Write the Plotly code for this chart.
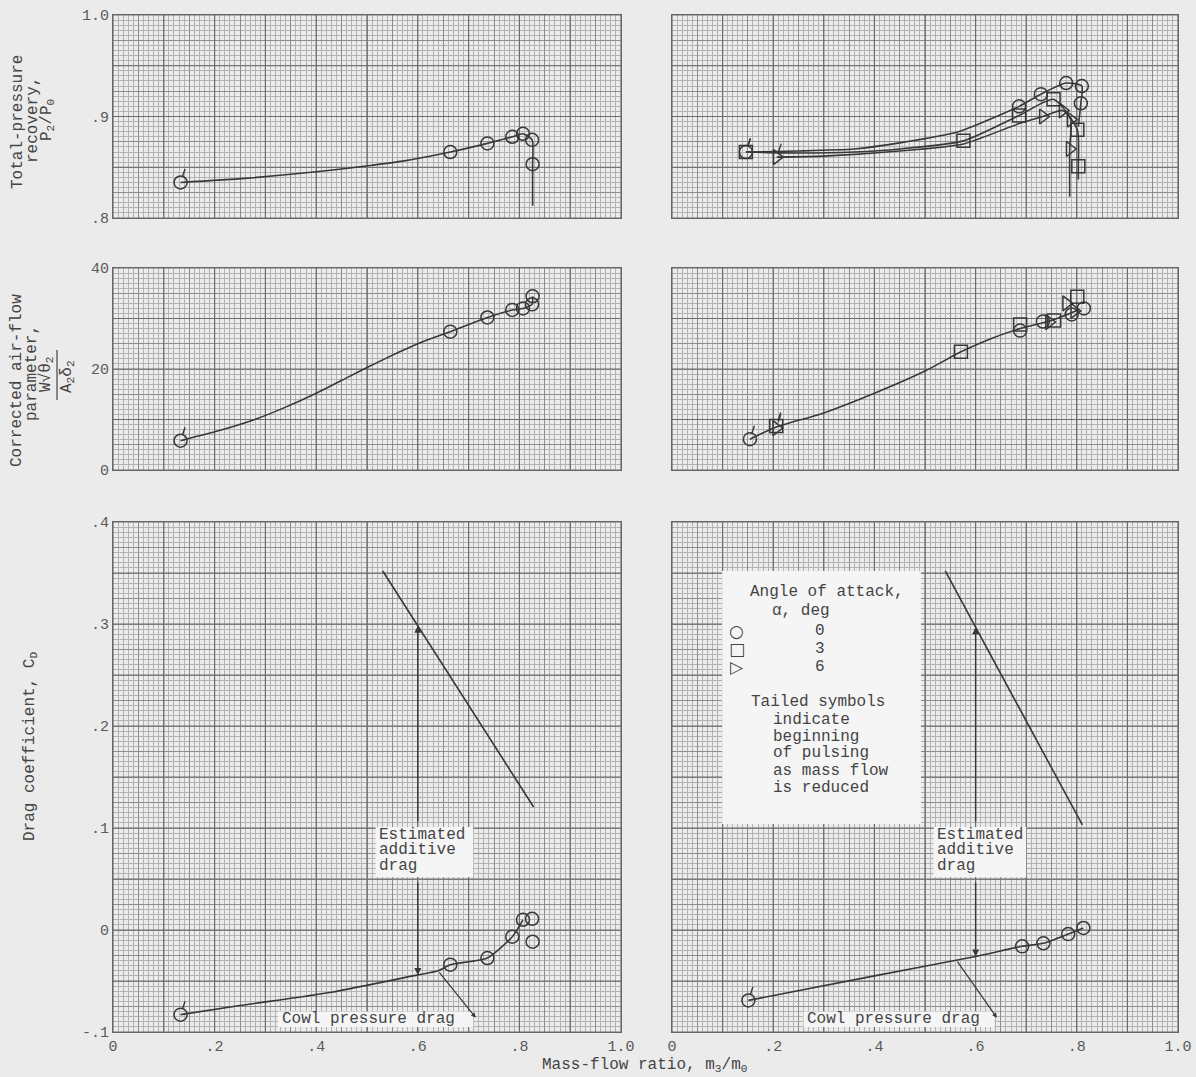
import numpy as np
import plotly.graph_objects as go

W, H = 1196, 1077

# ---------------- data ----------------
# Top-left: total-pressure recovery, alpha = 0
tl_mark_x = [0.133, 0.664, 0.737, 0.786, 0.807, 0.825, 0.826]
tl_mark_y = [0.835, 0.865, 0.8735, 0.880, 0.883, 0.877, 0.853]
tl_tailed = [0]
tl_curve_x = [0.133, 0.26, 0.41, 0.51, 0.57, 0.664, 0.737, 0.786, 0.807, 0.825, 0.826, 0.826]
tl_curve_y = [0.835, 0.839, 0.846, 0.852, 0.856, 0.865, 0.8735, 0.880, 0.883, 0.877, 0.853, 0.812]

# Top-right: total-pressure recovery, alpha = 0, 3, 6
tr_a0_x = [0.146, 0.686, 0.729, 0.779, 0.810, 0.808]
tr_a0_y = [0.865, 0.910, 0.922, 0.933, 0.930, 0.913]
tr_a3_x = [0.146, 0.576, 0.686, 0.754, 0.801, 0.803]
tr_a3_y = [0.865, 0.876, 0.901, 0.917, 0.887, 0.851]
tr_a6_x = [0.207, 0.733, 0.772, 0.788, 0.786]
tr_a6_y = [0.860, 0.900, 0.906, 0.897, 0.868]
tr_a0_curve_x = [0.146, 0.25, 0.36, 0.45, 0.566, 0.686, 0.729, 0.779, 0.810, 0.808, 0.803]
tr_a0_curve_y = [0.865, 0.866, 0.868, 0.874, 0.885, 0.910, 0.922, 0.933, 0.930, 0.913, 0.890]
tr_a3_curve_x = [0.146, 0.25, 0.36, 0.45, 0.576, 0.686, 0.754, 0.801, 0.803, 0.803]
tr_a3_curve_y = [0.865, 0.864, 0.865, 0.868, 0.876, 0.901, 0.917, 0.887, 0.851, 0.838]
tr_a6_curve_x = [0.207, 0.30, 0.45, 0.576, 0.686, 0.733, 0.772, 0.788, 0.786, 0.786]
tr_a6_curve_y = [0.860, 0.861, 0.866, 0.873, 0.893, 0.900, 0.906, 0.897, 0.868, 0.821]

# Middle-left: corrected air-flow parameter, alpha = 0
ml_mark_x = [0.133, 0.664, 0.737, 0.786, 0.807, 0.825, 0.826]
ml_mark_y = [5.8, 27.4, 30.2, 31.7, 32.0, 32.8, 34.4]
ml_curve_x = [0.133, 0.216, 0.279, 0.341, 0.404, 0.459, 0.504, 0.56, 0.607, 0.664, 0.737, 0.786, 0.807, 0.825, 0.826]
ml_curve_y = [5.8, 8.0, 10.0, 12.5, 15.4, 18.2, 20.5, 23.2, 25.3, 27.4, 30.2, 31.7, 32.0, 32.8, 34.4]

# Middle-right: corrected air-flow parameter, alpha = 0, 3, 6
mr_a0_x = [0.154, 0.688, 0.733, 0.790, 0.814]
mr_a0_y = [6.1, 27.6, 29.4, 30.8, 32.0]
mr_a3_x = [0.206, 0.571, 0.688, 0.755, 0.801]
mr_a3_y = [8.7, 23.4, 28.8, 29.6, 34.3]
mr_a6_x = [0.206, 0.745, 0.779, 0.795]
mr_a6_y = [8.3, 29.3, 33.0, 31.5]
mr_curve_x = [0.154, 0.206, 0.297, 0.40, 0.50, 0.571, 0.63, 0.688, 0.749, 0.805]
mr_curve_y = [6.1, 8.5, 11.2, 15.2, 19.6, 23.4, 26.0, 28.0, 29.6, 31.8]

# Bottom-left: drag coefficient, alpha = 0
bl_mark_x = [0.133, 0.664, 0.737, 0.786, 0.807, 0.825, 0.826]
bl_mark_y = [-0.083, -0.034, -0.0275, -0.0066, 0.010, 0.011, -0.0115]
bl_curve_x = [0.133, 0.25, 0.43, 0.60, 0.64, 0.664, 0.737, 0.786, 0.807]
bl_curve_y = [-0.083, -0.074, -0.061, -0.044, -0.040, -0.034, -0.0275, -0.0066, 0.010]
bl_add_x = [0.531, 0.828]
bl_add_y = [0.352, 0.1206]

# Bottom-right: drag coefficient, alpha = 0
br_mark_x = [0.151, 0.692, 0.734, 0.783, 0.813]
br_mark_y = [-0.069, -0.016, -0.013, -0.004, 0.002]
br_curve_x = [0.151, 0.40, 0.60, 0.692, 0.734, 0.783, 0.813]
br_curve_y = [-0.069, -0.045, -0.026, -0.016, -0.013, -0.004, 0.002]
br_add_x = [0.540, 0.811]
br_add_y = [0.352, 0.103]

additive_arrow_x = 0.6
bl_leader_x = 0.64
br_leader_x = 0.562

# tick labels
x_label_vals = [0, 0.2, 0.4, 0.6, 0.8, 1.0]
x_label_text = ['0', '.2', '.4', '.6', '.8', '1.0']
top_y_vals = [0.8, 0.9, 1.0]
top_y_text = ['.8', '.9', '1.0']
mid_y_vals = [0, 20, 40]
mid_y_text = ['0', '20', '40']
bot_y_vals = [-0.1, 0, 0.1, 0.2, 0.3, 0.4]
bot_y_text = ['-.1', '0', '.1', '.2', '.3', '.4']

legend_symbols = ['○', '□', '▷']
legend_angles = ['0', '3', '6']

# ---------------- style ----------------
PAPER = '#ebebeb'
PLOT = '#ececec'
FINE = '#b3b3b3'
MED = '#8c8c8c'
HEAVY = '#6c6c6c'
INK = '#383838'
TEXT = '#444444'
TICK = '#5a5a5a'
LABEL_BG = '#f5f5f5'
MONO = 'Liberation Mono, Courier New, monospace'


def px_x(p):
    return p / W


def px_y(p):
    return 1 - p / H


X_DOM_L = [px_x(113), px_x(621)]
X_DOM_R = [px_x(672), px_x(1178)]
Y_DOM_T = [px_y(218), px_y(15)]
Y_DOM_M = [px_y(470), px_y(268)]
Y_DOM_B = [px_y(1032), px_y(522)]


def make_ticks(lo, hi, step, label_vals, label_text, show):
    vals = np.round(np.arange(lo, hi + step / 2, step), 6)
    text = []
    for v in vals:
        t = ''
        if show:
            for lv, lt in zip(label_vals, label_text):
                if abs(v - lv) < 1e-9:
                    t = lt
        text.append(t)
    return list(vals), text


# panel spec: (index, xdom, ydom, yrange, fine, med, heavy, yvals, ytext, showx, showy)
panels = [
    (1, X_DOM_L, Y_DOM_T, [0.8, 1.0], 0.005, 0.025, 0.05, top_y_vals, top_y_text, False, True),
    (2, X_DOM_R, Y_DOM_T, [0.8, 1.0], 0.005, 0.025, 0.05, top_y_vals, top_y_text, False, False),
    (3, X_DOM_L, Y_DOM_M, [0, 40], 1, 5, 10, mid_y_vals, mid_y_text, False, True),
    (4, X_DOM_R, Y_DOM_M, [0, 40], 1, 5, 10, mid_y_vals, mid_y_text, False, False),
    (5, X_DOM_L, Y_DOM_B, [-0.1, 0.4], 0.005, 0.025, 0.05, bot_y_vals, bot_y_text, True, True),
    (6, X_DOM_R, Y_DOM_B, [-0.1, 0.4], 0.005, 0.025, 0.05, bot_y_vals, bot_y_text, True, False),
]

fig = go.Figure()
layout = dict(
    width=W, height=H,
    margin=dict(l=0, r=0, t=0, b=0, pad=0, autoexpand=False),
    paper_bgcolor=PAPER, plot_bgcolor=PLOT,
    showlegend=False,
    font=dict(family=MONO, color=TEXT),
)
shapes = []
annotations = []


def ax_names(i):
    return ('x' if i == 1 else f'x{i}'), ('y' if i == 1 else f'y{i}')


for (i, xd, yd, yr, fine, med, heavy, yv, yt, showx, showy) in panels:
    xk = 'xaxis' if i == 1 else f'xaxis{i}'
    yk = 'yaxis' if i == 1 else f'yaxis{i}'
    xr, yrf = ax_names(i)
    xtv, xtt = make_ticks(0, 1.0, 0.05, x_label_vals, x_label_text, showx)
    ytv, ytt = make_ticks(yr[0], yr[1], med, yv, yt, showy)
    layout[xk] = dict(
        domain=xd, range=[0, 1.0], anchor=yrf, tickmode='array', tickvals=xtv, ticktext=xtt,
        showgrid=True, gridcolor=MED, gridwidth=1, zeroline=False, automargin=False,
        minor=dict(dtick=0.01, tick0=0, showgrid=True, gridcolor=FINE, gridwidth=1),
        showline=True, mirror=True, linecolor='#666666', linewidth=1.2, ticks='',
        tickfont=dict(family=MONO, size=15, color=TICK), fixedrange=True,
    )
    layout[yk] = dict(
        domain=yd, range=yr, anchor=xr, tickmode='array', tickvals=ytv, ticktext=ytt,
        showgrid=True, gridcolor=MED, gridwidth=1, zeroline=False, automargin=False,
        minor=dict(dtick=fine, tick0=yr[0], showgrid=True, gridcolor=FINE, gridwidth=1),
        showline=True, mirror=True, linecolor='#666666', linewidth=1.2, ticks='',
        tickfont=dict(family=MONO, size=15, color=TICK), fixedrange=True,
    )
    # heavy graph-paper lines, drawn as a trace on the panel's own axes
    gx, gy = [], []
    for v in np.arange(0, 1.0 + 1e-9, 0.1):
        gx += [v, v, None]
        gy += [yr[0], yr[1], None]
    for v in np.arange(yr[0], yr[1] + heavy / 1000, heavy):
        gx += [0, 1.0, None]
        gy += [v, v, None]
    fig.add_trace(go.Scatter(x=gx, y=gy, xaxis=xr, yaxis=yrf, mode='lines',
                             line=dict(color=HEAVY, width=1.2), hoverinfo='skip'))


def curve(x, y, i, smooth=0.7):
    xr, yr = ax_names(i)
    fig.add_trace(go.Scatter(x=x, y=y, xaxis=xr, yaxis=yr, mode='lines',
                             line=dict(color=INK, width=1.6, shape='spline', smoothing=smooth),
                             hoverinfo='skip'))


def straight(x, y, i):
    xr, yr = ax_names(i)
    fig.add_trace(go.Scatter(x=x, y=y, xaxis=xr, yaxis=yr, mode='lines',
                             line=dict(color=INK, width=1.6), hoverinfo='skip'))


def marks(x, y, i, symbol, tailed=()):
    xr, yr = ax_names(i)
    fig.add_trace(go.Scatter(x=x, y=y, xaxis=xr, yaxis=yr, mode='markers',
                             marker=dict(symbol=symbol, size=13, color=INK,
                                         line=dict(width=1.5, color=INK)),
                             hoverinfo='skip'))
    for k in tailed:
        annotations.append(dict(x=x[k], y=y[k], xref=xr, yref=yr, text='', showarrow=True,
                                arrowhead=0, arrowwidth=1.4, arrowcolor=INK,
                                ax=5, ay=-15, standoff=6))


# top-left
curve(tl_curve_x, tl_curve_y, 1, 0.6)
marks(tl_mark_x, tl_mark_y, 1, 'circle-open', tl_tailed)
# top-right
curve(tr_a0_curve_x, tr_a0_curve_y, 2, 0.6)
curve(tr_a3_curve_x, tr_a3_curve_y, 2, 0.6)
curve(tr_a6_curve_x, tr_a6_curve_y, 2, 0.6)
marks(tr_a0_x, tr_a0_y, 2, 'circle-open', [0])
marks(tr_a3_x, tr_a3_y, 2, 'square-open', [0])
marks(tr_a6_x, tr_a6_y, 2, 'triangle-right-open', [0])
# middle-left
curve(ml_curve_x, ml_curve_y, 3, 0.6)
marks(ml_mark_x, ml_mark_y, 3, 'circle-open', [0])
# middle-right
curve(mr_curve_x, mr_curve_y, 4, 0.6)
marks(mr_a0_x, mr_a0_y, 4, 'circle-open', [0])
marks(mr_a3_x, mr_a3_y, 4, 'square-open', [0])
marks(mr_a6_x, mr_a6_y, 4, 'triangle-right-open', [0])
# bottom-left
curve(bl_curve_x, bl_curve_y, 5, 0.6)
straight(bl_add_x, bl_add_y, 5)
marks(bl_mark_x, bl_mark_y, 5, 'circle-open', [0])
# bottom-right
curve(br_curve_x, br_curve_y, 6, 0.6)
straight(br_add_x, br_add_y, 6)
marks(br_mark_x, br_mark_y, 6, 'circle-open', [0])


def text_lines(lines, x, ys, xref, yref, size=16, anchor='left', color=TEXT, family=MONO):
    for t, yy in zip(lines, ys):
        annotations.append(dict(x=x, y=yy, xref=xref, yref=yref, text=t, showarrow=False,
                                xanchor=anchor, yanchor='middle',
                                font=dict(family=family, size=size, color=color)))


def box(x0, x1, y0, y1, xref, yref):
    shapes.append(dict(type='rect', xref=xref, yref=yref, x0=x0, x1=x1, y0=y0, y1=y1,
                       fillcolor=LABEL_BG, line=dict(width=0), layer='above'))


est_lines = ['Estimated', 'additive', 'drag']
for (i, add_x, add_y, cx, cy, bx0, bx1, cbx0, cbx1, lead_x) in [
    (5, bl_add_x, bl_add_y, bl_curve_x, bl_curve_y, 0.517, 0.709, 0.325, 0.709, bl_leader_x),
    (6, br_add_x, br_add_y, br_curve_x, br_curve_y, 0.517, 0.700, 0.260, 0.637, br_leader_x),
]:
    xr, yr = ax_names(i)
    box_top, box_bot = 0.101, 0.052
    box(bx0, bx1, box_bot, box_top, xr, yr)
    text_lines(est_lines, bx0 + 0.003, [0.0931, 0.0784, 0.0627], xr, yr)
    box(cbx0, cbx1, -0.095, -0.080, xr, yr)
    text_lines(['Cowl pressure drag'], cbx0 + 0.003, [-0.0875], xr, yr)
    y_top = float(np.interp(additive_arrow_x, add_x, add_y))
    y_bot = float(np.interp(additive_arrow_x, cx, cy))
    annotations.append(dict(x=additive_arrow_x, y=y_top, ax=additive_arrow_x, ay=box_top + 0.004,
                            xref=xr, yref=yr, axref=xr, ayref=yr, text='', showarrow=True,
                            arrowhead=2, arrowsize=1.0, arrowwidth=1.4, arrowcolor=INK))
    annotations.append(dict(x=additive_arrow_x, y=y_bot, ax=additive_arrow_x, ay=box_bot - 0.004,
                            xref=xr, yref=yr, axref=xr, ayref=yr, text='', showarrow=True,
                            arrowhead=2, arrowsize=1.0, arrowwidth=1.4, arrowcolor=INK))
    y_lead = float(np.interp(lead_x, cx, cy))
    annotations.append(dict(x=cbx1 + 0.005, y=-0.086, ax=lead_x, ay=y_lead,
                            xref=xr, yref=yr, axref=xr, ayref=yr, text='', showarrow=True,
                            arrowhead=2, arrowsize=0.8, arrowwidth=1.2, arrowcolor=INK))

# legend box (bottom-right panel)
box(0.099, 0.492, 0.104, 0.352, 'x6', 'y6')
text_lines(['Angle of attack,'], 0.150, [0.331], 'x6', 'y6')
text_lines(['α, deg'], 0.193, [0.313], 'x6', 'y6')
text_lines(legend_symbols, 0.128, [0.293, 0.2755, 0.258], 'x6', 'y6', size=17,
           anchor='center', family='DejaVu Sans')
text_lines(legend_angles, 0.292, [0.293, 0.2755, 0.258], 'x6', 'y6', anchor='center')
text_lines(['Tailed symbols'], 0.153, [0.2232], 'x6', 'y6')
text_lines(['indicate', 'beginning', 'of pulsing', 'as mass flow', 'is reduced'], 0.196,
           [0.2062, 0.1895, 0.1735, 0.156, 0.139], 'x6', 'y6')


# axis titles (rotated)
def rot_title(t, xp, yp, size=16):
    annotations.append(dict(x=px_x(xp), y=px_y(yp), xref='paper', yref='paper', text=t,
                            showarrow=False, textangle=-90, xanchor='center', yanchor='middle',
                            font=dict(family=MONO, size=size, color=TEXT)))


rot_title('Total-pressure', 18, 122)
rot_title('recovery,', 33, 120)
rot_title('P<sub>2</sub>/P<sub>0</sub>', 48, 120)

rot_title('Corrected air-flow', 17, 381)
rot_title('parameter,', 32, 373)
rot_title('W√θ<sub>2</sub>', 47, 374)
rot_title('A<sub>2</sub>δ<sub>2</sub>', 67, 377)
shapes.append(dict(type='line', xref='paper', yref='paper', x0=px_x(57), x1=px_x(57),
                   y0=px_y(400), y1=px_y(350), line=dict(color=TEXT, width=1.2)))

rot_title('Drag coefficient, C<sub>D</sub>', 30, 747)

annotations.append(dict(x=px_x(645), y=px_y(1065), xref='paper', yref='paper',
                        text='Mass-flow ratio, m<sub>3</sub>/m<sub>0</sub>', showarrow=False,
                        xanchor='center', yanchor='middle',
                        font=dict(family=MONO, size=16, color=TEXT)))

layout['shapes'] = shapes
layout['annotations'] = annotations
fig.update_layout(**layout)
fig.write_html('out.html', config={'displayModeBar': False},
               post_script="document.body.style.margin='0';document.body.style.overflow='hidden';")
